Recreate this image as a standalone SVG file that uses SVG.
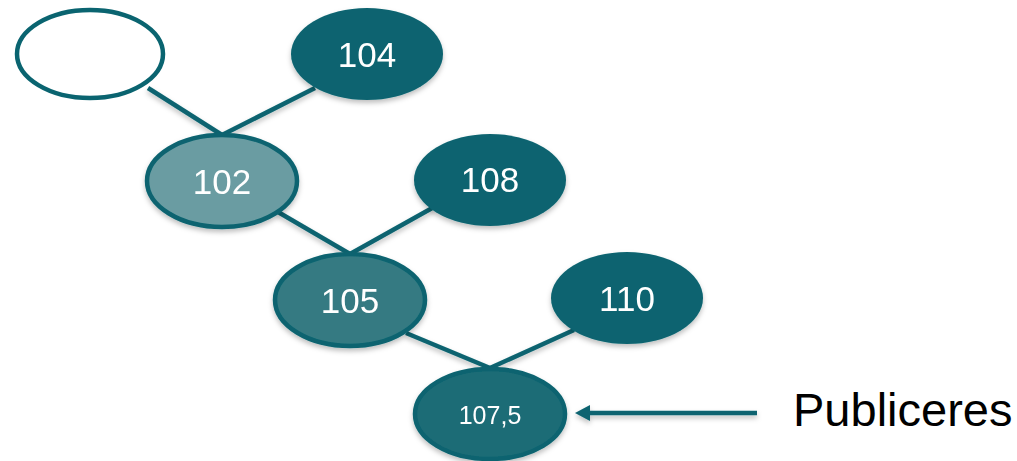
<svg xmlns="http://www.w3.org/2000/svg" width="1017" height="461" viewBox="0 0 1017 461">
<defs>
<style>
.edge{stroke:#0a6470;stroke-width:4.5;fill:none}
.lbl{font-family:"Liberation Sans",Arial,sans-serif;fill:#fff;text-anchor:middle}
.big{font-size:35px}
.small{font-size:25px}
</style>
<filter id="sh" x="-20%" y="-20%" width="140%" height="150%">
<feDropShadow dx="0" dy="3" stdDeviation="2.5" flood-color="#000" flood-opacity="0.25"/>
</filter>
</defs>
<g id="connectors" filter="url(#sh)">
<line class="edge" x1="148" y1="88" x2="222" y2="135"/>
<line class="edge" x1="315" y1="88" x2="222" y2="135"/>
<line class="edge" x1="278" y1="212" x2="350" y2="254"/>
<line class="edge" x1="434" y1="207" x2="350" y2="254"/>
<line class="edge" x1="406" y1="333" x2="490" y2="368"/>
<line class="edge" x1="574" y1="330" x2="490" y2="368"/>
<line x1="757" y1="413" x2="590" y2="413" stroke="#0a6470" stroke-width="4.5"/>
<path d="M590,405 L575,413 L590,421 z" fill="#0a6470"/>
</g>
<g id="n-empty">
<ellipse cx="90" cy="54" rx="73" ry="44" fill="#fff" stroke="#0a6470" stroke-width="4.5"/>
</g>
<g id="n104" filter="url(#sh)">
<ellipse cx="367" cy="54" rx="76" ry="46" fill="#0a6470"/>
<text class="lbl big" x="367" y="67">104</text>
</g>
<g id="n102" filter="url(#sh)">
<ellipse cx="222" cy="181" rx="75" ry="46" fill="#6a9ca2" stroke="#0a6470" stroke-width="4.5"/>
<text class="lbl big" x="222" y="194">102</text>
</g>
<g id="n108" filter="url(#sh)">
<ellipse cx="490" cy="180" rx="76" ry="46" fill="#0a6470"/>
<text class="lbl big" x="490" y="192">108</text>
</g>
<g id="n105" filter="url(#sh)">
<ellipse cx="350" cy="300" rx="75" ry="46" fill="#347a82" stroke="#0a6470" stroke-width="4.5"/>
<text class="lbl big" x="350" y="313">105</text>
</g>
<g id="n110" filter="url(#sh)">
<ellipse cx="627" cy="298" rx="76" ry="46" fill="#0a6470"/>
<text class="lbl big" x="627" y="311">110</text>
</g>
<g id="n1075" filter="url(#sh)">
<ellipse cx="490" cy="414" rx="75" ry="45" fill="#1e6c76" stroke="#0a6470" stroke-width="4.5"/>
<text class="lbl small" x="490" y="424">107,5</text>
</g>
<text x="793" y="426" font-family="'Liberation Sans',Arial,sans-serif" font-size="47" fill="#000">Publiceres</text>
</svg>
